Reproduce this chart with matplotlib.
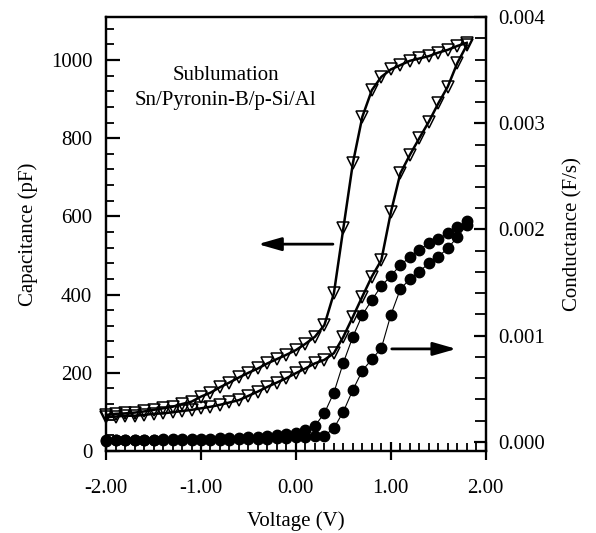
import matplotlib
matplotlib.use("Agg")
import matplotlib.pyplot as plt
from matplotlib.ticker import MultipleLocator, FormatStrFormatter

plt.rcParams['font.family'] = ['Liberation Serif', 'DejaVu Serif']

# voltage steps (V)
voltage = [-2.0, -1.9, -1.8, -1.7, -1.6, -1.5, -1.4, -1.3, -1.2, -1.1,
           -1.0, -0.9, -0.8, -0.7, -0.6, -0.5, -0.4, -0.3, -0.2, -0.1,
           0.0, 0.1, 0.2, 0.3, 0.4, 0.5, 0.6, 0.7, 0.8, 0.9,
           1.0, 1.1, 1.2, 1.3, 1.4, 1.5, 1.6, 1.7, 1.8]

# capacitance (pF), two sweep branches
cap_upper = [92, 95, 96, 98, 101, 105, 109, 113, 120, 126,
             139, 149, 163, 175, 188, 200, 211, 224, 235, 246,
             258, 274, 292, 322, 403, 570, 736, 855, 923, 957,
             976, 987, 998, 1004, 1010, 1019, 1026, 1036, 1044]
cap_lower = [86, 88, 90, 90, 92, 95, 96, 99, 102, 105,
             109, 113, 118, 124, 130, 141, 152, 164, 175, 186,
             199, 211, 224, 233, 250, 292, 343, 395, 446, 488,
             610, 710, 757, 800, 842, 889, 932, 992, 1038]

# conductance (F/s), two sweep branches
cond_a = [0.000019, 0.000019, 0.000020, 0.000020, 0.000021, 0.000022, 0.000023, 0.000024, 0.000025, 0.000026,
          0.000028, 0.000030, 0.000032, 0.000035, 0.000040, 0.000044, 0.000050, 0.000056, 0.000062, 0.000070,
          0.000082, 0.000113, 0.000151, 0.000270, 0.000464, 0.000746, 0.000990, 0.001195, 0.001336, 0.001468,
          0.001562, 0.001666, 0.001738, 0.001807, 0.001870, 0.001910, 0.001964, 0.002026, 0.002080]
cond_b = [0.000013, 0.000014, 0.000014, 0.000015, 0.000015, 0.000016, 0.000016, 0.000017, 0.000018, 0.000018,
          0.000019, 0.000020, 0.000021, 0.000022, 0.000023, 0.000025, 0.000027, 0.000030, 0.000034, 0.000039,
          0.000044, 0.000050, 0.000056, 0.000058, 0.000129, 0.000285, 0.000489, 0.000671, 0.000778, 0.000882,
          0.001195, 0.001437, 0.001534, 0.001603, 0.001682, 0.001744, 0.001823, 0.001927, 0.002042]

fig = plt.figure(figsize=(5.96, 5.33), dpi=100)
ax = fig.add_axes([0.178, 0.154, 0.637, 0.814])
ax2 = ax.twinx()

# capacitance curves
for c in (cap_upper, cap_lower):
    ax.plot(voltage, c, color='black', lw=1.8, marker='v', markersize=8.5,
            markerfacecolor='none', markeredgecolor='black', markeredgewidth=1.1,
            clip_on=False, zorder=3)

# conductance curves
for g in (cond_a, cond_b):
    ax2.plot(voltage, g, color='black', lw=0.8, marker='o', markersize=7.5,
             markerfacecolor='black', markeredgecolor='black', clip_on=False)

# axes ranges
ax.set_xlim(-2.0, 2.0)
ax.set_ylim(0, 1110)
ax2.set_ylim(-0.000085, 0.004)

ax.xaxis.set_major_locator(MultipleLocator(1.0))
ax.xaxis.set_minor_locator(MultipleLocator(0.1))
ax.xaxis.set_major_formatter(FormatStrFormatter('%.2f'))
ax.yaxis.set_major_locator(MultipleLocator(200))
ax.yaxis.set_minor_locator(MultipleLocator(40))
ax2.yaxis.set_major_locator(MultipleLocator(0.001))
ax2.yaxis.set_minor_locator(MultipleLocator(0.0002))
ax2.yaxis.set_major_formatter(FormatStrFormatter('%.3f'))

for a in (ax, ax2):
    for s in a.spines.values():
        s.set_linewidth(1.6)

ax.tick_params(axis='x', which='major', direction='inout', length=13, width=1.6,
               labelsize=15, pad=14)
ax.tick_params(axis='x', which='minor', direction='in', length=6, width=1.3)
ax.tick_params(axis='y', which='major', direction='in', length=10, width=1.6,
               labelsize=15, pad=10)
ax.tick_params(axis='y', which='minor', direction='in', length=6, width=1.3)
ax2.tick_params(axis='y', which='major', direction='in', length=9, width=1.6,
                labelsize=15, pad=9)
ax2.tick_params(axis='y', which='minor', direction='in', length=8, width=1.3)

# labels
ax.set_xlabel('Voltage (V)', fontsize=15, labelpad=9)
ax.set_ylabel('Capacitance (pF)', fontsize=15, labelpad=9)
ax2.set_ylabel('Conductance (F/s)', fontsize=15, labelpad=13)

# annotation
ax.text(-0.74, 929, 'Sublumation\nSn/Pyronin-B/p-Si/Al', fontsize=15,
        ha='center', va='center', linespacing=1.45)

# arrows
ax.annotate('', xy=(-0.40, 529), xytext=(0.39, 529),
            arrowprops=dict(arrowstyle='-|>,head_length=1.4,head_width=0.4',
                            color='black', lw=2, shrinkA=0, shrinkB=0))
ax.annotate('', xy=(1.69, 261), xytext=(1.01, 261),
            arrowprops=dict(arrowstyle='-|>,head_length=1.4,head_width=0.4',
                            color='black', lw=2, shrinkA=0, shrinkB=0))

fig.savefig('out.png', dpi=100)
